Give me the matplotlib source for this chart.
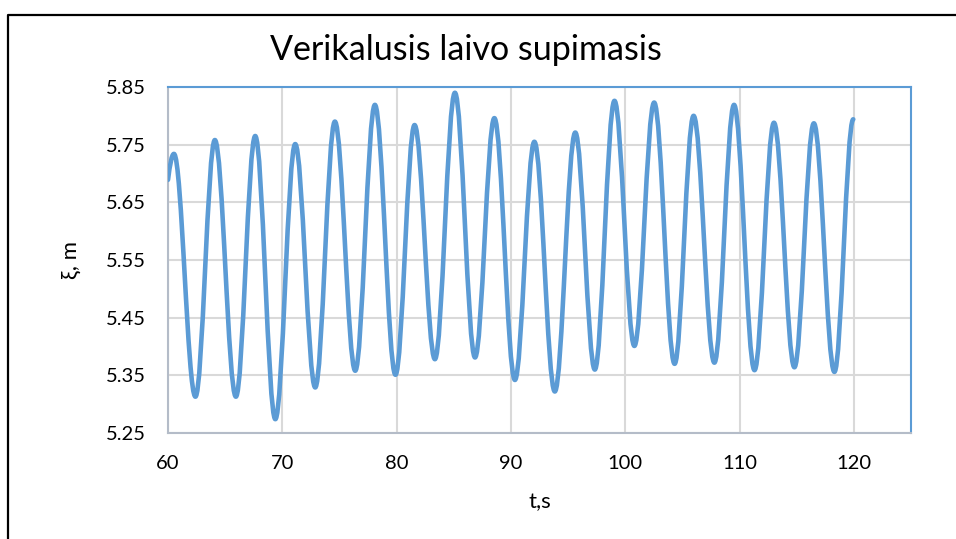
import matplotlib
matplotlib.use("Agg")
import matplotlib.pyplot as plt
from matplotlib.path import Path
from matplotlib.patches import PathPatch
from matplotlib.lines import Line2D

# extrema of the heave record (start, peaks/troughs, end)
t_pts = [60.0, 60.52, 62.4, 64.1, 65.94, 67.63, 69.39, 71.13, 72.88, 74.6, 76.38,
         78.1, 79.9, 81.57, 83.35, 85.1, 86.86, 88.55, 90.35, 92.05, 93.84,
         95.63, 97.34, 99.06, 100.8, 102.53, 104.32, 105.98, 107.8, 109.52,
         111.31, 113.01, 114.8, 116.5, 118.3, 119.95]
xi_pts = [5.689, 5.734, 5.313, 5.758, 5.313, 5.765, 5.274, 5.751, 5.329, 5.790, 5.358,
          5.819, 5.351, 5.784, 5.378, 5.840, 5.381, 5.796, 5.342, 5.755, 5.322,
          5.771, 5.360, 5.826, 5.401, 5.823, 5.370, 5.800, 5.372, 5.819,
          5.359, 5.788, 5.364, 5.787, 5.356, 5.794]

x_ticks = [60, 70, 80, 90, 100, 110, 120]
y_ticks = [5.25, 5.35, 5.45, 5.55, 5.65, 5.75, 5.85]

blue = "#5B9BD5"
plt.rcParams['font.family'] = ['Lato', 'DejaVu Sans']

fig = plt.figure(figsize=(9.56, 5.39), dpi=100)
ax = fig.add_axes([168 / 956, 1 - 433 / 539, (911 - 168) / 956, (433 - 87) / 539])

# smooth line (like Excel "smoothed line") through the read points with bezier segments
k = 0.364
verts = [(t_pts[0], xi_pts[0])]
codes = [Path.MOVETO]
for i in range(1, len(t_pts)):
    t0, v0 = t_pts[i - 1], xi_pts[i - 1]
    t1, v1 = t_pts[i], xi_pts[i]
    dt = t1 - t0
    if i == 1:
        c1 = (t0 + dt / 3, v0 + (v1 - v0) * 0.6)
    else:
        c1 = (t0 + k * dt, v0)
    c2 = (t1 - k * dt, v1)
    verts += [c1, c2, (t1, v1)]
    codes += [Path.CURVE4] * 3
ax.add_patch(PathPatch(Path(verts, codes), facecolor='none', edgecolor=blue,
                       lw=3.3, capstyle='round', joinstyle='round', zorder=3))

ax.set_xlim(60, 125)
ax.set_ylim(5.25, 5.85)
ax.set_xticks(x_ticks)
ax.set_yticks(y_ticks)
ax.set_yticklabels([f"{v:.2f}" for v in y_ticks])
ax.tick_params(length=0, labelsize=14.5, colors='black')
ax.tick_params(axis='y', pad=16)
ax.tick_params(axis='x', pad=16)
ax.grid(True, color='#D9D9D9', lw=1.5)
ax.set_axisbelow(True)

for s in ['top', 'right']:
    ax.spines[s].set_color(blue)
    ax.spines[s].set_linewidth(1.5)
for s in ['left', 'bottom']:
    ax.spines[s].set_color('#B4BCC8')
    ax.spines[s].set_linewidth(1.5)

ax.set_xlabel('t,s', fontsize=16, labelpad=14)
ax.set_ylabel('ξ, m', fontsize=16, labelpad=18)

fig.text(466 / 956, 1 - 50 / 539, 'Verikalusis laivo supimasis', fontsize=24.5,
         ha='center', va='center')

# black frame at left and top of the picture
fig.add_artist(Line2D([7.5 / 956, 7.5 / 956, 1.0], [0.0, 1 - 14.5 / 539, 1 - 14.5 / 539],
                      transform=fig.transFigure, color='black', lw=1.6))

fig.savefig('out.png', dpi=100)
